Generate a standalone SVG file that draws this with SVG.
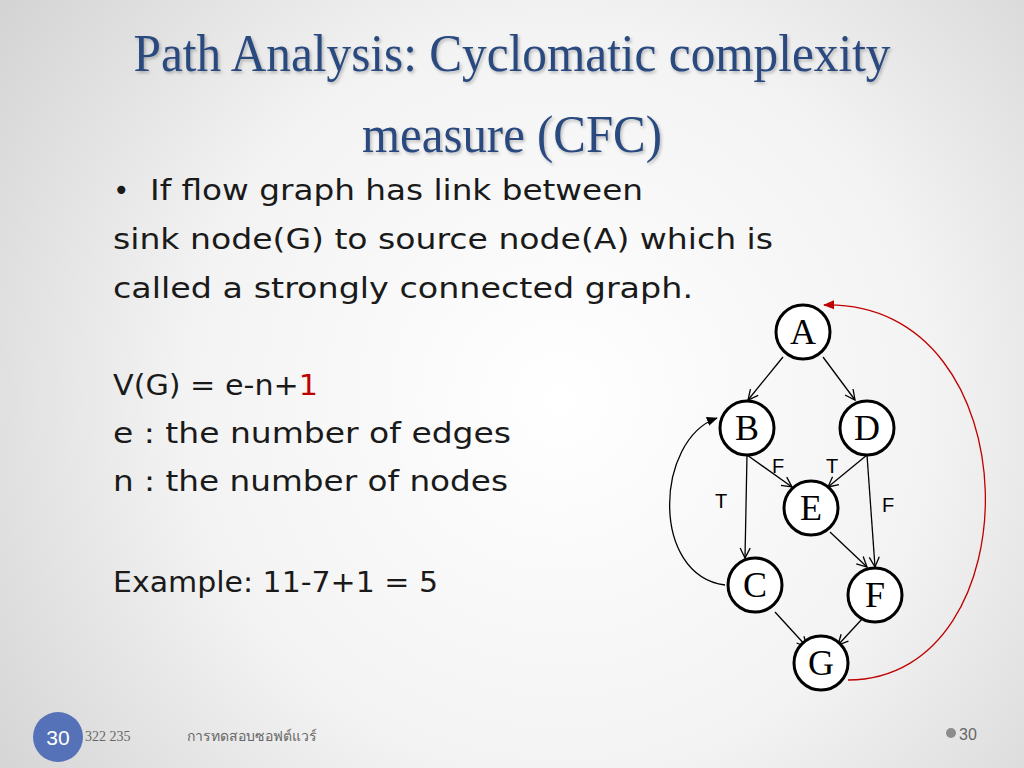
<svg xmlns="http://www.w3.org/2000/svg" width="1024" height="768" viewBox="0 0 1024 768">
<defs>
<radialGradient id="bg" cx="560" cy="400" r="680" gradientUnits="userSpaceOnUse">
<stop offset="0" stop-color="#ffffff"/>
<stop offset="0.55" stop-color="#f3f3f3"/>
<stop offset="1" stop-color="#d4d4d4"/>
</radialGradient>
<filter id="sh" x="-5%" y="-20%" width="110%" height="150%">
<feDropShadow dx="1.5" dy="2" stdDeviation="1.8" flood-color="#000" flood-opacity="0.25"/>
</filter>
<marker id="open" viewBox="0 0 12 12" refX="11" refY="6" markerWidth="12" markerHeight="12" markerUnits="userSpaceOnUse" orient="auto">
<path d="M1,1 L11,6 L1,11" fill="none" stroke="#000" stroke-width="1.3"/>
</marker>
<marker id="fillk" viewBox="0 0 12 12" refX="11" refY="6" markerWidth="11" markerHeight="11" markerUnits="userSpaceOnUse" orient="auto">
<path d="M0,1 L12,6 L0,11 Z" fill="#000"/>
</marker>
<marker id="fillr" viewBox="0 0 12 12" refX="11" refY="6" markerWidth="11" markerHeight="11" markerUnits="userSpaceOnUse" orient="auto">
<path d="M0,1 L12,6 L0,11 Z" fill="#c00000"/>
</marker>
</defs>
<style>
.title{font-family:"Liberation Serif","DejaVu Serif",serif;font-size:52px;fill:#2b4a7e;}
.body{font-family:"DejaVu Sans","Liberation Sans",sans-serif;font-size:28px;fill:#1a1a1a;}
.node circle{fill:#ffffff;stroke:#000;stroke-width:3;}
.node text{font-family:"Liberation Serif","DejaVu Serif",serif;font-size:36px;fill:#000;text-anchor:middle;}
.edge{fill:none;stroke:#000;stroke-width:1.3;}
.lbl{font-family:"Liberation Sans",Arial,sans-serif;font-size:20px;fill:#000;}
.foot{font-family:"Liberation Serif",serif;font-size:14px;fill:#666;}
</style>
<rect width="1024" height="768" fill="url(#bg)"/>

<g id="title" filter="url(#sh)">
<text class="title" x="512" y="71" text-anchor="middle" textLength="757" lengthAdjust="spacingAndGlyphs">Path Analysis: Cyclomatic complexity</text>
<text class="title" x="512" y="152" text-anchor="middle" textLength="300" lengthAdjust="spacingAndGlyphs">measure (CFC)</text>
</g>

<g id="body">
<text class="body" x="113" y="200">•</text>
<text class="body" x="150" y="200" textLength="493" lengthAdjust="spacingAndGlyphs">If flow graph has link between</text>
<text class="body" x="113" y="249" textLength="660" lengthAdjust="spacingAndGlyphs">sink node(G) to source node(A) which is</text>
<text class="body" x="113" y="298" textLength="580" lengthAdjust="spacingAndGlyphs">called a strongly connected graph.</text>
<text class="body" x="113" y="395" textLength="205" lengthAdjust="spacingAndGlyphs">V(G) = e-n+<tspan fill="#c00000">1</tspan></text>
<text class="body" x="113" y="443" textLength="398" lengthAdjust="spacingAndGlyphs">e : the number of edges</text>
<text class="body" x="113" y="491" textLength="395" lengthAdjust="spacingAndGlyphs">n : the number of nodes</text>
<text class="body" x="113" y="592" textLength="325" lengthAdjust="spacingAndGlyphs">Example: 11-7+1 = 5</text>
</g>

<g id="connectors">
<line class="edge" x1="783" y1="357" x2="748" y2="400" marker-end="url(#open)"/>
<line class="edge" x1="823" y1="357" x2="855" y2="400" marker-end="url(#open)"/>
<line class="edge" x1="747" y1="455" x2="745" y2="558" marker-end="url(#open)"/>
<line class="edge" x1="747" y1="455" x2="792" y2="487" marker-end="url(#open)"/>
<line class="edge" x1="867" y1="455" x2="828" y2="487" marker-end="url(#open)"/>
<line class="edge" x1="867" y1="455" x2="875" y2="567" marker-end="url(#open)"/>
<line class="edge" x1="830" y1="532" x2="867" y2="567" marker-end="url(#open)"/>
<line class="edge" x1="775" y1="612" x2="807" y2="647" marker-end="url(#open)"/>
<line class="edge" x1="863" y1="618" x2="838" y2="645" marker-end="url(#open)"/>
<path class="edge" d="M725,585 C650,575 655,440 717,418" marker-end="url(#fillk)"/>
<path class="edge" d="M848,680 C1035,680 1035,300 824,305" style="stroke:#c00000" marker-end="url(#fillr)"/>
<text class="lbl" x="772" y="473">F</text>
<text class="lbl" x="826" y="473">T</text>
<text class="lbl" x="715" y="508">T</text>
<text class="lbl" x="882" y="512">F</text>
</g>

<g id="node-A" class="node"><circle cx="803" cy="332" r="27"/><text x="803" y="344">A</text></g>
<g id="node-B" class="node"><circle cx="747" cy="428" r="27"/><text x="747" y="440">B</text></g>
<g id="node-D" class="node"><circle cx="867" cy="428" r="27"/><text x="867" y="440">D</text></g>
<g id="node-E" class="node"><circle cx="811" cy="508" r="27"/><text x="811" y="520">E</text></g>
<g id="node-C" class="node"><circle cx="755" cy="585" r="27"/><text x="755" y="597">C</text></g>
<g id="node-F" class="node"><circle cx="875" cy="595" r="27"/><text x="875" y="607">F</text></g>
<g id="node-G" class="node"><circle cx="821" cy="663" r="27"/><text x="821" y="675">G</text></g>

<g id="footer">
<circle cx="58" cy="737" r="25" fill="#5572b8"/>
<text x="58" y="745" text-anchor="middle" font-family="Liberation Sans, Arial, sans-serif" font-size="21" fill="#ffffff">30</text>
<text class="foot" x="85" y="741">322 235</text>
<text class="foot" x="187" y="741" font-size="13">การทดสอบซอฟต์แวร์</text>
<circle cx="951" cy="733" r="5" fill="#8c8c8c"/>
<text x="959" y="740" font-family="Liberation Sans, Arial, sans-serif" font-size="16" fill="#666">30</text>
</g>
</svg>
